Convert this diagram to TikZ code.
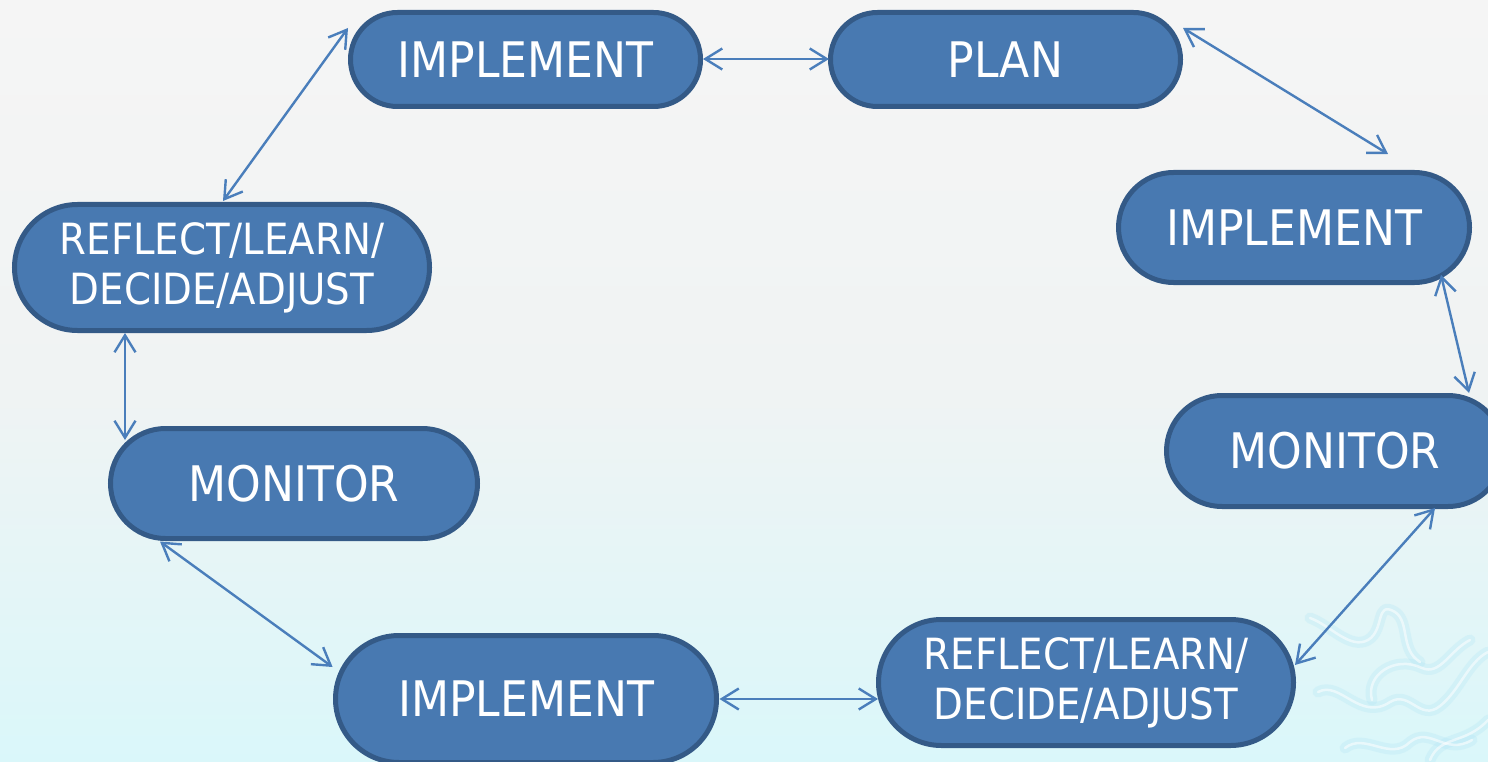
\documentclass[tikz,border=0pt]{standalone}
\usepackage{fontspec}
\setmainfont{DejaVu Sans}[FakeStretch=0.9]
\usetikzlibrary{shapes.misc,arrows.meta}
\definecolor{bgtop}{HTML}{F5F5F5}
\definecolor{bgmid}{HTML}{F0F3F3}
\definecolor{bgbot}{HTML}{DAF7FA}
\definecolor{pillfill}{HTML}{4879B1}
\definecolor{pilldraw}{HTML}{345A87}
\definecolor{arrowcol}{HTML}{4A7EBB}
\definecolor{swirl}{HTML}{B4E6F5}
\tikzset{
  pill/.style={rounded rectangle, draw=pilldraw, fill=pillfill, line width=5pt, inner sep=0pt},
  onel/.style={text=white, inner sep=0pt, font=\fontsize{49}{58}\selectfont},
  twol/.style={text=white, inner sep=0pt, align=center, font=\fontsize{43}{50}\selectfont},
  link/.style={draw=arrowcol, line width=2.4pt,
    {Straight Barb[length=17pt,width=21pt]}-{Straight Barb[length=17pt,width=21pt]}},
  wispglow/.style={draw=swirl, line width=11pt, line cap=round, line join=round, opacity=0.3},
  wispcore/.style={draw=white, line width=2.5pt, line cap=round, line join=round, opacity=0.55},
  swirlpaths/.pic={
    \path[#1] (1310,618) .. controls (1330,625) and (1350,650) .. (1368,640)
        .. controls (1385,630) and (1375,600) .. (1395,612)
        .. controls (1410,622) and (1400,650) .. (1420,662);
    \path[#1] (1318,692) .. controls (1340,680) and (1360,722) .. (1390,702)
        .. controls (1410,690) and (1420,722) .. (1440,706)
        .. controls (1460,690) and (1468,662) .. (1488,652);
    \path[#1] (1345,748) .. controls (1365,732) and (1390,762) .. (1410,742)
        .. controls (1430,726) and (1445,756) .. (1472,740);
    \path[#1] (1372,700) .. controls (1365,675) and (1395,655) .. (1422,668)
        .. controls (1440,676) and (1450,650) .. (1470,640);
    \path[#1] (1430,760) .. controls (1440,735) and (1465,745) .. (1488,720);
  },
}
\begin{document}
\begin{tikzpicture}[x=1pt,y=-1pt]
\clip (0,0) rectangle (1488,762);
\shade[top color=bgtop, bottom color=bgmid] (0,0) rectangle (1488,381);
\shade[top color=bgmid, bottom color=bgbot] (0,381) rectangle (1488,762);
% faint decorative swirl (bottom right)
\pic {swirlpaths=wispglow};
\pic {swirlpaths=wispcore};

% nodes
\node[pill, minimum width=350, minimum height=94,
  label={[onel]center:IMPLEMENT}] (impT) at (525.5,59.5) {};
\node[pill, minimum width=350, minimum height=94,
  label={[onel]center:PLAN}] (plan) at (1005.5,59.5) {};
\node[pill, minimum width=351, minimum height=110,
  label={[onel]center:IMPLEMENT}] (impR) at (1294,227.5) {};
\node[pill, minimum width=337, minimum height=111,
  label={[onel]center:MONITOR}] (monR) at (1335,451) {};
\node[pill, minimum width=415, minimum height=126,
  label={[twol]center:REFLECT/LEARN/\\DECIDE/ADJUST}] (refR) at (1086,682.5) {};
\node[pill, minimum width=381, minimum height=127,
  label={[onel]center:IMPLEMENT}] (impB) at (526,699) {};
\node[pill, minimum width=367, minimum height=110,
  label={[onel]center:MONITOR}] (monL) at (294,483.5) {};
\node[pill, minimum width=415, minimum height=126,
  label={[twol]center:REFLECT/LEARN/\\DECIDE/ADJUST}] (refL) at (222,267.5) {};

% connectors
\draw[link] ([shift={(1,-66.5)}]refL.center) -- ([shift={(-177.5,-31.5)}]impT.center);
\draw[link] ([shift={(177.5,-0.5)}]impT.center) -- ([shift={(-176.5,-0.5)}]plan.center);
\draw[link] ([shift={(177.5,-31.5)}]plan.center) -- ([shift={(94,-73.5)}]impR.center);
\draw[link] ([shift={(147,47.5)}]impR.center) -- ([shift={(134,-58)}]monR.center);
\draw[link] ([shift={(100,57)}]monR.center) -- ([shift={(209,-17.5)}]refR.center);
\draw[link] ([shift={(193.5,0)}]impB.center) -- ([shift={(-208,16.5)}]refR.center);
\draw[link] ([shift={(-193.4,-32)}]impB.center) -- ([shift={(-134,58)}]monL.center);
\draw[link] ([shift={(-169,-43.5)}]monL.center) -- ([shift={(-97,65.5)}]refL.center);
\end{tikzpicture}
\end{document}
